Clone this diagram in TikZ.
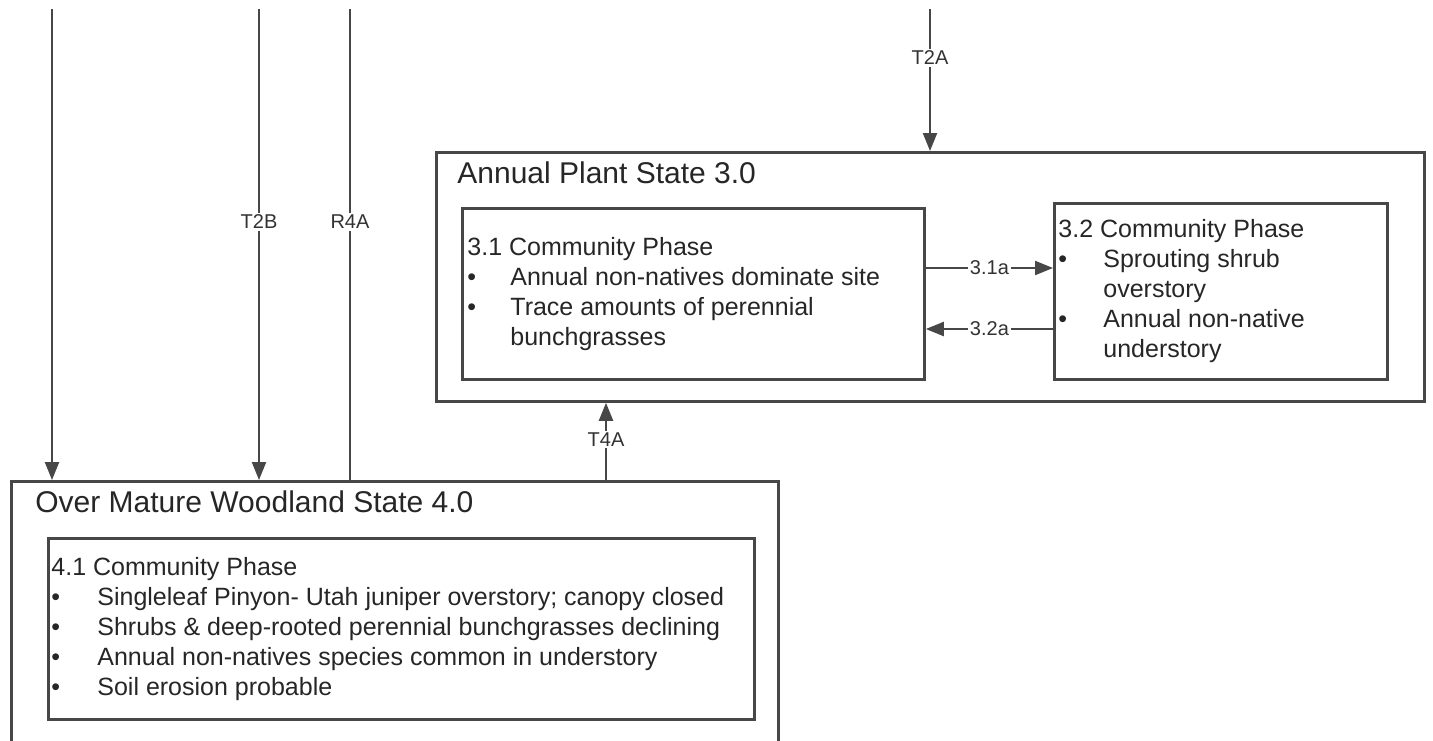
\documentclass[tikz,border=0pt]{standalone}
\usepackage{fontspec}
\setmainfont{Liberation Sans}
\usetikzlibrary{arrows.meta}
\newcommand\bulitem[1]{\makebox[#1][l]{\textbullet}}
\begin{document}
\begin{tikzpicture}[x=0.5pt,y=-0.5pt,
 box/.style={draw=black!72, line width=1.4pt, inner sep=0pt, anchor=north west},
 body/.style={inner sep=0pt, anchor=north west, align=left, text=black!85, font=\fontsize{12.5}{15}\selectfont},
 ttl/.style={inner sep=0pt, anchor=base west, text=black!85, font=\fontsize{15}{18}\selectfont},
 conn/.style={draw=black!72, line width=1.1pt},
 arr/.style={conn, -{Triangle[length=9pt,width=7pt]}},
 lab/.style={fill=white, inner sep=1pt, text=black!80, font=\fontsize{10}{12}\selectfont}]
\useasboundingbox (0,0) rectangle (1433,740);
\clip (0,0) rectangle (1433,740);
% boxes
\node[box, minimum width=494pt, minimum height=124.5pt] (s3) at (435,151) {};
\node[box, minimum width=231pt, minimum height=85.5pt] (p31) at (461,207) {};
\node[box, minimum width=166.5pt, minimum height=88pt] (p32) at (1053,202) {};
\node[box, minimum width=383.5pt, minimum height=135pt] (s4) at (10,480) {};
\node[box, minimum width=353pt, minimum height=90.5pt] (p41) at (47,537) {};
% titles
\node[ttl] (t3) at (457,183) {Annual Plant State 3.0};
\node[ttl] (t4) at (35,512) {Over Mature Woodland State 4.0};
% texts
\node[body] (x31) at (467,237) {3.1 Community Phase\\
\bulitem{21.5pt}Annual non-natives dominate site\\
\bulitem{21.5pt}Trace amounts of perennial\\
\hspace*{21.5pt}bunchgrasses};
\node[body] (x32) at (1058,219) {3.2 Community Phase\\
\bulitem{22.5pt}Sprouting shrub\\
\hspace*{22.5pt}overstory\\
\bulitem{22.5pt}Annual non-native\\
\hspace*{22.5pt}understory};
\node[body] (x41) at (51,557) {4.1 Community Phase\\
\bulitem{23pt}Singleleaf Pinyon- Utah juniper overstory; canopy closed\\
\bulitem{23pt}Shrubs \& deep-rooted perennial bunchgrasses declining\\
\bulitem{23pt}Annual non-natives species common in understory\\
\bulitem{23pt}Soil erosion probable};
% connectors
\coordinate (e1) at (52,9);
\coordinate (e2) at (259,9);
\coordinate (e3) at (350,9);
\coordinate (e4) at (930,9);
\coordinate (x4a) at (606,0);
\coordinate (y1) at (0,268);
\coordinate (y2) at (0,329);
\draw[arr] (e1) -- (e1 |- s4.north);
\draw[arr] (e2) -- (e2 |- s4.north) node[lab, pos=0.452] (l2b) {T2B};
\draw[conn] (e3 |- s4.north) -- (e3) node[lab, pos=0.548] (l4a) {R4A};
\draw[arr] (e4) -- (e4 |- s3.north) node[lab, pos=0.345] (l2a) {T2A};
\draw[arr] (x4a |- s4.north) -- (x4a |- s3.south) node[lab, pos=0.525] (l4t) {T4A};
\draw[arr] (p31.east |- y1) -- (p32.west |- y1) node[lab, midway] (l31) {3.1a};
\draw[arr] (p32.west |- y2) -- (p31.east |- y2) node[lab, midway] (l32) {3.2a};
\end{tikzpicture}
\end{document}
